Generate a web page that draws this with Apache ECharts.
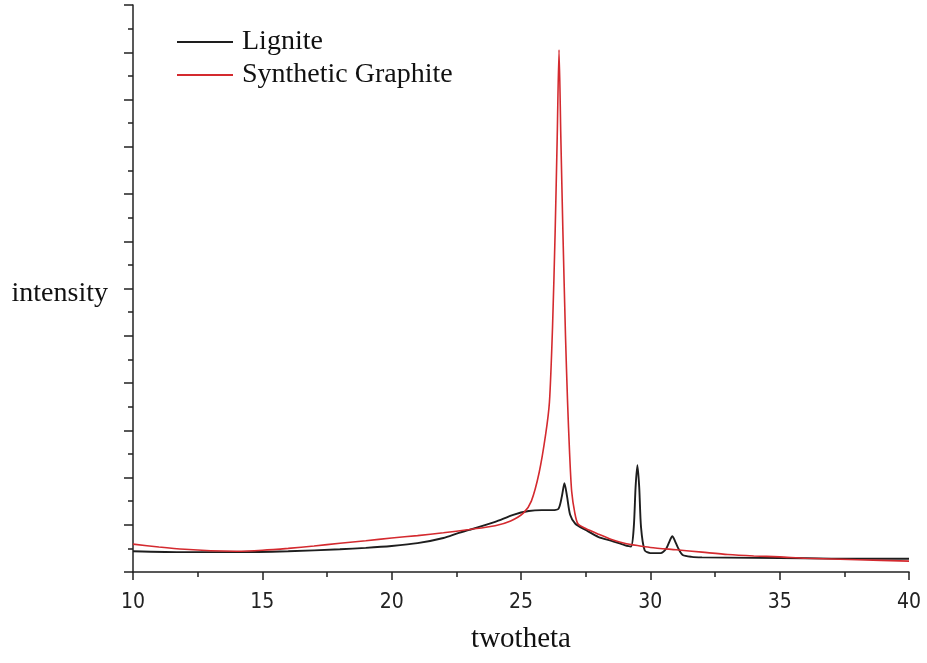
<!DOCTYPE html>
<html>
<head>
<meta charset="utf-8">
<script src="https://cdn.jsdelivr.net/npm/echarts@6/dist/echarts.min.js"></script>
<style>
  html, body { margin: 0; padding: 0; background: #fff; }
  #chart { width: 927px; height: 663px; }
</style>
</head>
<body>
<div id="chart"></div>
<script>
// XRD patterns (intensity in arbitrary units, 0..12)
const ligniteTheta = [10, 12, 14, 16, 18, 19, 20, 21, 22, 22.6, 23, 24, 24.7, 25.3, 25.8, 26.2, 26.45,
  26.58, 26.68, 26.78, 26.9, 27.1, 27.5, 28, 28.5, 29, 29.25, 29.36, 29.43, 29.5, 29.57, 29.64, 29.78,
  30, 30.4, 30.62, 30.75, 30.85, 30.95, 31.08, 31.25, 31.6, 32, 34, 36, 38, 40];
const ligniteIntensity = [0.44, 0.42, 0.42, 0.44, 0.48, 0.51, 0.55, 0.61, 0.72, 0.83, 0.89, 1.06, 1.21, 1.29, 1.31, 1.31, 1.34,
  1.6, 1.88, 1.6, 1.21, 1.02, 0.89, 0.74, 0.66, 0.57, 0.54, 0.95, 1.8, 2.26, 1.8, 0.95, 0.46,
  0.40, 0.40, 0.5, 0.66, 0.76, 0.66, 0.5, 0.36, 0.32, 0.31, 0.30, 0.29, 0.28, 0.28];

const graphiteTheta = [10, 11, 12, 13, 14, 15, 16, 17, 18, 19, 20, 21, 22, 23, 24, 24.6, 25.1, 25.4, 25.7,
  25.95, 26.1, 26.22, 26.32, 26.4, 26.47, 26.54, 26.62, 26.72, 26.8, 26.88, 26.96, 27.08, 27.2, 27.5,
  28, 28.5, 29, 29.5, 30, 31, 32, 33, 34, 35, 36, 38, 40];
const graphiteIntensity = [0.59, 0.53, 0.48, 0.45, 0.44, 0.46, 0.50, 0.55, 0.61, 0.66, 0.72, 0.77, 0.83, 0.90, 0.98, 1.08, 1.25, 1.5, 2.1,
  2.9, 3.6, 5.2, 7.2, 9.2, 11.05, 9.2, 7.2, 5.0, 3.6, 2.5, 1.7, 1.25, 1.02, 0.92,
  0.80, 0.69, 0.61, 0.56, 0.52, 0.47, 0.42, 0.37, 0.34, 0.32, 0.29, 0.26, 0.23];

const zip = (xs, ys) => xs.map((x, i) => [x, ys[i]]);

const serif = '"Liberation Serif", "Times New Roman", serif';
const narrow = '"DejaVu Sans Condensed", "Liberation Sans", Arial, sans-serif';
const axisColor = '#222';

const chart = echarts.init(document.getElementById('chart'), null, { renderer: 'canvas' });
chart.setOption({
  animation: false,
  backgroundColor: '#fff',
  grid: { left: 133, right: 18, top: 5, bottom: 91 },
  legend: {
    orient: 'vertical',
    left: 172,
    top: 22,
    icon: 'rect',
    itemWidth: 56,
    itemHeight: 2,
    itemGap: 3,
    textStyle: { fontFamily: serif, fontSize: 28, color: '#111', lineHeight: 30, padding: [0, 0, 0, 4] },
    data: ['Lignite', 'Synthetic Graphite'],
  },
  xAxis: {
    type: 'value',
    min: 10,
    max: 40,
    interval: 5,
    name: 'twotheta',
    nameLocation: 'middle',
    nameGap: 53,
    nameTextStyle: { fontFamily: serif, fontSize: 29, color: '#111' },
    axisLine: { show: true, lineStyle: { color: axisColor, width: 1.5 } },
    axisTick: { show: true, inside: false, length: 8, lineStyle: { color: axisColor, width: 1.5 } },
    minorTick: { show: true, splitNumber: 2, length: 5, lineStyle: { color: axisColor, width: 1.5 } },
    axisLabel: { fontFamily: narrow, fontSize: 21, color: '#222', margin: 20 },
    splitLine: { show: false },
  },
  yAxis: {
    type: 'value',
    min: 0,
    max: 12,
    interval: 1,
    name: 'intensity',
    nameLocation: 'middle',
    nameRotate: 0,
    nameGap: 25,
    nameTextStyle: { fontFamily: serif, fontSize: 28, color: '#111', align: 'right', verticalAlign: 'top', lineHeight: 10 },
    axisLine: { show: true, lineStyle: { color: axisColor, width: 1.5 } },
    axisTick: { show: true, inside: false, length: 9, lineStyle: { color: axisColor, width: 1.5 } },
    minorTick: { show: true, splitNumber: 2, length: 5, lineStyle: { color: axisColor, width: 1.5 } },
    axisLabel: { show: false },
    splitLine: { show: false },
  },
  series: [
    {
      name: 'Lignite',
      type: 'line',
      data: zip(ligniteTheta, ligniteIntensity),
      showSymbol: false,
      smooth: 0.25,
      color: '#1e1e1e',
      lineStyle: { width: 1.9 },
    },
    {
      name: 'Synthetic Graphite',
      type: 'line',
      data: zip(graphiteTheta, graphiteIntensity),
      showSymbol: false,
      smooth: 0.25,
      color: '#d42a2f',
      lineStyle: { width: 1.6 },
    },
  ],
});
</script>
</body>
</html>
